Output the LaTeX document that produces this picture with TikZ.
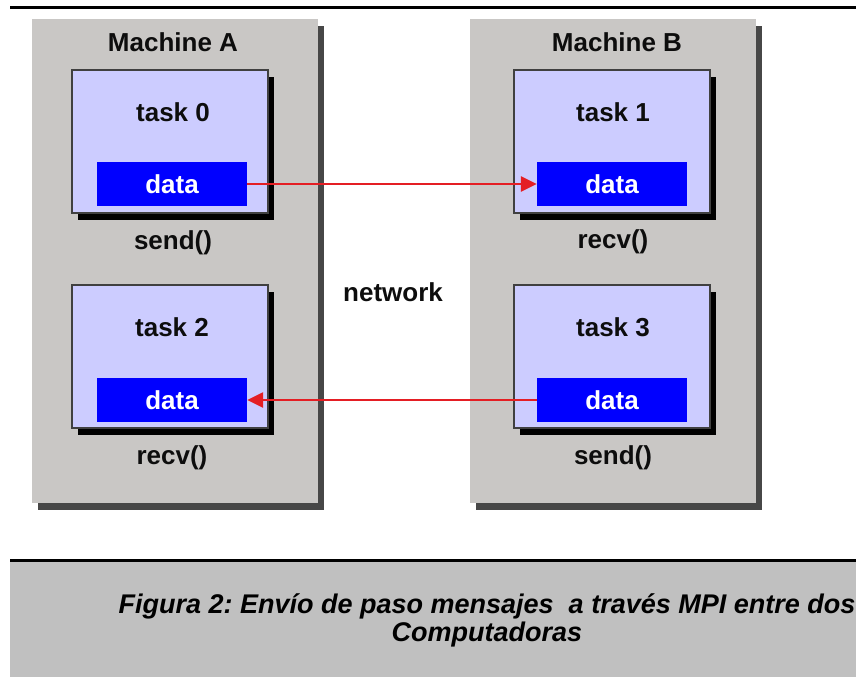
\documentclass[tikz,border=0pt]{standalone}
\usepackage{fontspec}
\setmainfont{Liberation Sans}
\usepackage{tikz}
\usetikzlibrary{calc, arrows.meta, positioning, shadows}

\definecolor{machgray}{RGB}{201,199,197}
\definecolor{capgray}{RGB}{192,192,192}
\definecolor{tasklav}{RGB}{204,204,255}
\definecolor{datablue}{RGB}{0,0,255}
\definecolor{msgred}{RGB}{228,30,36}

\tikzset{
  machine/.style={fill=machgray, minimum width=286pt, minimum height=484pt, inner sep=0pt,
    drop shadow={shadow xshift=6pt, shadow yshift=-7pt, fill=black!72, opacity=1}},
  taskbox/.style={fill=tasklav, draw=black!75, line width=2pt, minimum width=196pt, minimum height=143pt, inner sep=0pt,
    drop shadow={shadow xshift=6pt, shadow yshift=-7pt, fill=black, opacity=1}},
  databox/.style={fill=datablue, text=white, font=\bfseries\fontsize{26}{28}\selectfont,
    minimum width=150pt, minimum height=44pt, inner sep=0pt},
  lbl/.style={font=\bfseries\fontsize{26}{28}\selectfont, text=black!95, inner sep=0pt},
  caption/.style={font=\bfseries\itshape\fontsize{27}{28}\selectfont, align=center, inner sep=0pt},
  msg/.style={draw=msgred, line width=2.5pt, -{Triangle[length=16pt,width=15pt]}}
}

\frenchspacing
\begin{document}
\begin{tikzpicture}[x=1pt, y=-1pt]
        \useasboundingbox (0,0) rectangle (856,677);
        %\draw (0,0) rectangle (856,677);

        % the two machines
        \node[machine] (mA) at (175,261) {};
        \node[machine] (mB) at (613,261) {};
        \node[lbl] (nameA) at (173,42) {Machine A};
        \node[lbl] (nameB) at (617,42) {Machine B};

        % tasks
        \node[taskbox] (t0) at (170,141) {};
        \node[taskbox] (t1) at (612,141) {};
        \node[taskbox] (t2) at (170,356) {};
        \node[taskbox] (t3) at (612,356) {};
        \node[lbl] at (173,112) {task 0};
        \node[lbl] at (613,112) {task 1};
        \node[lbl] at (172,327) {task 2};
        \node[lbl] at (613,327) {task 3};

        % data buffers
        \node[databox] (d0) at (172,184) {data};
        \node[databox] (d1) at (612,184) {data};
        \node[databox] (d2) at (172,400) {data};
        \node[databox] (d3) at (612,400) {data};

        \node[lbl] (call0) at (173,243) {send()};
        \node[lbl] (call1) at (613,242) {recv()};
        \node[lbl] (call2) at (172,458) {recv()};
        \node[lbl] (call3) at (613,458) {send()};
        \node[lbl] (net) at (393,292) {network};

        % messages
        \draw[msg] (d0.east) -- (d1.west);
        \draw[msg] (d3.west) -- (d2.east);

        % rules and caption
        \draw[line width=3pt] (10,8) -- (856,8);
        \fill[capgray] (10,561) rectangle (856,677);
        \draw[line width=3pt] (10,560) -- (856,560);
        \node[caption] (cap) at (487,620) {Figura 2: Envío de paso mensajes\ \ a través MPI entre dos\\Computadoras};
\end{tikzpicture}
\end{document}
